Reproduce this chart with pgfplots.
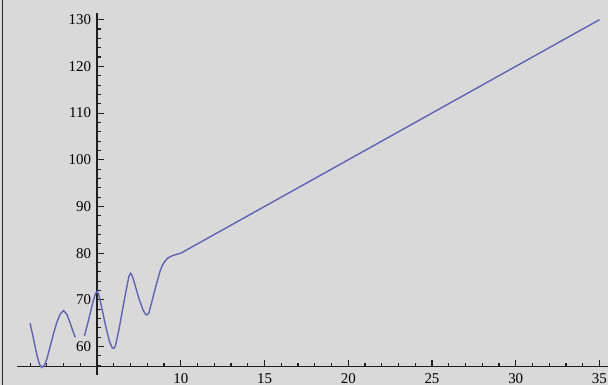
\documentclass[border=0pt]{standalone}
\usepackage{pgfplots}
\pgfplotsset{compat=1.18}
\usepackage{fontspec}
\setmainfont{Liberation Serif}
\definecolor{panel}{RGB}{217,217,217}
\definecolor{curve}{RGB}{98,98,180}
\definecolor{axisgray}{RGB}{30,30,30}
\definecolor{edge}{RGB}{48,40,32}
\begin{document}
\begin{tikzpicture}
\fill[panel, use as bounding box] (0,0) rectangle (608bp,385bp);
\draw[edge, line width=1.6bp] (2.5bp,0) -- (2.5bp,385bp);
\begin{axis}[
  at={(17bp,10bp)}, anchor=south west,
  scale only axis, width=591bp, height=362bp,
  xmin=0.22, xmax=35.51, ymin=53.92, ymax=131.43,
  axis x line*=bottom, axis y line*=left,
  axis x line shift=-8.3bp, axis y line shift=-80bp,
  axis line style={axisgray, line width=1.4bp},
  xtick={10,15,...,35}, minor xtick={1,...,35},
  ytick={60,70,...,130}, minor ytick={56,58,...,130},
  tick align=inside, major tick length=6.5bp, minor tick length=3.8bp,
  every tick/.style={axisgray, line width=1.1bp},
  ticklabel style={font=\fontsize{15}{15}\selectfont, text=black},
  xticklabel style={yshift=-3bp},
  yticklabel style={xshift=-2.5bp},
  /pgf/number format/assume math mode=true,
  clip=false,
]
% oscillating part, first branch
\addplot[curve, line width=1.4bp] coordinates {
  (1.0,65.0) (1.2,61.8) (1.4,58.3) (1.55,56.3) (1.7,55.5) (1.85,56.0)
  (2.0,57.3) (2.2,60.0) (2.4,62.8) (2.6,65.2) (2.8,67.0) (3.0,67.7)
  (3.2,66.9) (3.4,65.0) (3.6,62.9) (3.7,62.0)
};
% second branch up to the linear tail
\addplot[curve, line width=1.4bp] coordinates {
  (4.25,62.3) (4.5,65.8) (4.75,69.5) (4.9,71.3) (5.0,71.8) (5.1,71.2)
  (5.3,68.0) (5.5,64.6) (5.75,61.0) (5.9,59.8) (6.0,59.6) (6.1,60.2)
  (6.3,63.5) (6.5,67.5) (6.75,72.3) (6.9,75.0) (7.0,75.7) (7.1,75.2)
  (7.3,72.8) (7.5,70.3) (7.75,67.8) (7.9,66.9) (8.0,66.8) (8.1,67.3)
  (8.3,70.0) (8.5,72.8) (8.75,76.0) (8.9,77.4) (9.0,78.0) (9.2,78.9)
  (9.4,79.3) (9.6,79.6) (9.8,79.8) (10.0,80.0) (35.0,130.0)
};
\end{axis}
\end{tikzpicture}
\end{document}
